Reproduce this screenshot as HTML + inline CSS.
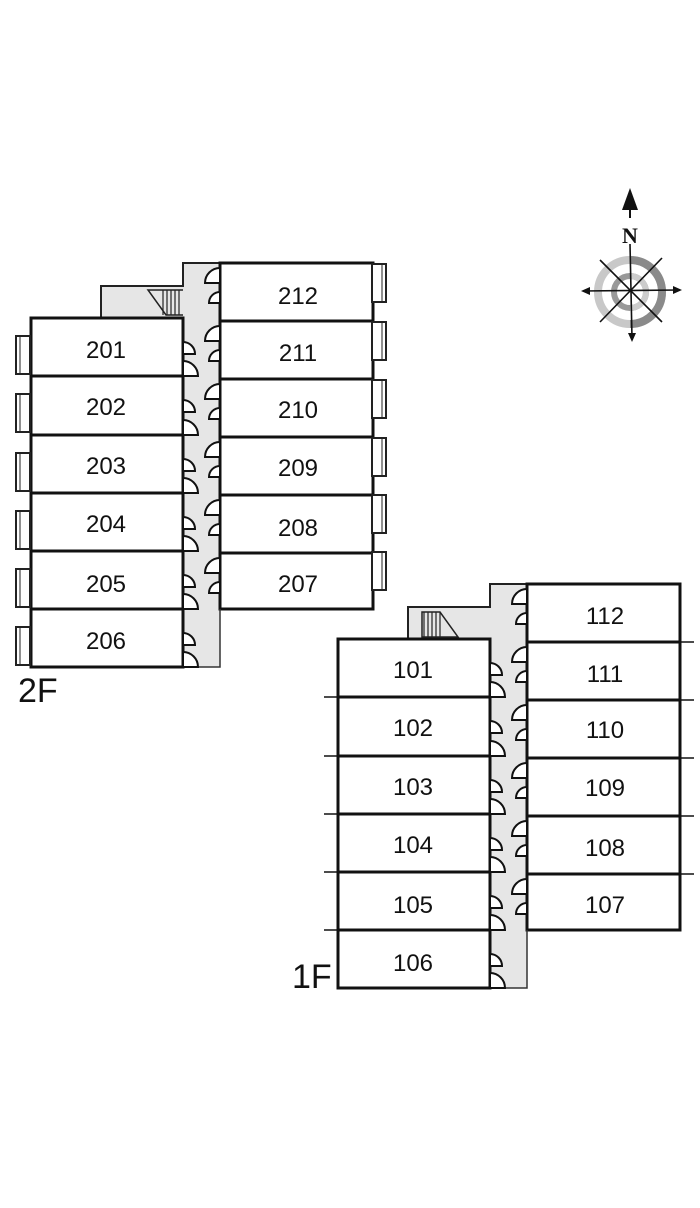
<!DOCTYPE html>
<html><head><meta charset="utf-8"><style>
html,body{margin:0;padding:0;background:#fff;width:700px;height:1208px;overflow:hidden}
text{font-family:"Liberation Sans",sans-serif;fill:#111}
</style></head><body>
<svg width="700" height="1208" viewBox="0 0 700 1208" xmlns="http://www.w3.org/2000/svg">
<defs>
<g id="fl">
<rect x="490" y="584" width="37" height="404" fill="#e6e6e6"/>
<rect x="408" y="607" width="82" height="32" fill="#e6e6e6"/>
<path d="M408 639 L408 607 L490 607 L490 584 L527 584" fill="none" stroke="#222" stroke-width="2"/>
<rect x="338" y="639" width="152" height="349" fill="#fff" stroke="#111" stroke-width="3"/>
<path d="M338 697H490M338 756H490M338 814H490M338 872H490M338 930H490" stroke="#111" stroke-width="3"/>
<rect x="527" y="584" width="153" height="346" fill="#fff" stroke="#111" stroke-width="3"/>
<path d="M527 642H680M527 700H680M527 758H680M527 816H680M527 874H680" stroke="#111" stroke-width="3"/>
<path d="M527 930V988H490" fill="none" stroke="#333" stroke-width="1.5"/>
<g fill="#fff" stroke="#111" stroke-width="2">
<path d="M490 663A12 12 0 0 1 502 675L490 675Z"/><path d="M490 682A15 15 0 0 1 505 697L490 697Z"/>
<path d="M490 721A12 12 0 0 1 502 733L490 733Z"/><path d="M490 741A15 15 0 0 1 505 756L490 756Z"/>
<path d="M490 780A12 12 0 0 1 502 792L490 792Z"/><path d="M490 799A15 15 0 0 1 505 814L490 814Z"/>
<path d="M490 838A12 12 0 0 1 502 850L490 850Z"/><path d="M490 857A15 15 0 0 1 505 872L490 872Z"/>
<path d="M490 896A12 12 0 0 1 502 908L490 908Z"/><path d="M490 915A15 15 0 0 1 505 930L490 930Z"/>
<path d="M490 954A12 12 0 0 1 502 966L490 966Z"/><path d="M490 973A15 15 0 0 1 505 988L490 988Z"/>
<path d="M527 589A15 15 0 0 0 512 604L527 604Z"/><path d="M527 613A11 11 0 0 0 516 624L527 624Z"/>
<path d="M527 647A15 15 0 0 0 512 662L527 662Z"/><path d="M527 671A11 11 0 0 0 516 682L527 682Z"/>
<path d="M527 705A15 15 0 0 0 512 720L527 720Z"/><path d="M527 729A11 11 0 0 0 516 740L527 740Z"/>
<path d="M527 763A15 15 0 0 0 512 778L527 778Z"/><path d="M527 787A11 11 0 0 0 516 798L527 798Z"/>
<path d="M527 821A15 15 0 0 0 512 836L527 836Z"/><path d="M527 845A11 11 0 0 0 516 856L527 856Z"/>
<path d="M527 879A15 15 0 0 0 512 894L527 894Z"/><path d="M527 903A11 11 0 0 0 516 914L527 914Z"/>
</g>
</g>
<g id="bl"><rect x="0" y="0" width="14" height="38" fill="#fff" stroke="#222" stroke-width="2"/><line x1="4" y1="1" x2="4" y2="37" stroke="#222" stroke-width="1"/></g>
<g id="br"><rect x="0" y="0" width="14" height="38" fill="#fff" stroke="#222" stroke-width="2"/><line x1="10" y1="1" x2="10" y2="37" stroke="#222" stroke-width="1"/></g>
</defs>

<use href="#fl"/>
<g stroke="#222" stroke-width="1.2">
<path d="M424 612V637M428 612V637M432 612V637M436 612V637M440 612V637"/>
<path d="M422 612H440L458 637H422Z" fill="none" stroke-width="1.5"/>
</g>
<path d="M324 697H338M324 756H338M324 814H338M324 872H338M324 930H338M680 642H694M680 700H694M680 758H694M680 816H694M680 874H694" stroke="#111" stroke-width="1.5"/>
<g font-size="24" text-anchor="middle">
<text x="413" y="678">101</text>
<text x="413" y="736">102</text>
<text x="413" y="795">103</text>
<text x="413" y="853">104</text>
<text x="413" y="913">105</text>
<text x="413" y="971">106</text>
<text x="605" y="624">112</text>
<text x="605" y="682">111</text>
<text x="605" y="738">110</text>
<text x="605" y="796">109</text>
<text x="605" y="856">108</text>
<text x="605" y="913">107</text>
</g>
<text x="292" y="988" font-size="34">1F</text>

<g transform="translate(-307,-321)"><use href="#fl"/></g>
<g stroke="#222" stroke-width="1.2">
<path d="M163 290V315M167 290V315M171 290V315M175 290V315M179 290V315"/>
<path d="M183 290H148L166 315H183" fill="none" stroke-width="1.5"/>
</g>
<use href="#bl" x="16" y="336"/><use href="#bl" x="16" y="394"/><use href="#bl" x="16" y="453"/>
<use href="#bl" x="16" y="511"/><use href="#bl" x="16" y="569"/><use href="#bl" x="16" y="627"/>
<use href="#br" x="372" y="264"/><use href="#br" x="372" y="322"/><use href="#br" x="372" y="380"/>
<use href="#br" x="372" y="438"/><use href="#br" x="372" y="495"/><use href="#br" x="372" y="552"/>
<g font-size="24" text-anchor="middle">
<text x="106" y="358">201</text>
<text x="106" y="415">202</text>
<text x="106" y="474">203</text>
<text x="106" y="532">204</text>
<text x="106" y="592">205</text>
<text x="106" y="649">206</text>
<text x="298" y="304">212</text>
<text x="298" y="361">211</text>
<text x="298" y="418">210</text>
<text x="298" y="476">209</text>
<text x="298" y="536">208</text>
<text x="298" y="592">207</text>
</g>
<text x="18" y="702" font-size="34">2F</text>

<circle cx="630" cy="292" r="32" fill="none" stroke="#c8c8c8" stroke-width="8"/>
<path d="M630 260A32 32 0 0 1 630 324" fill="none" stroke="#8a8a8a" stroke-width="8"/>
<circle cx="630" cy="292" r="16" fill="none" stroke="#999" stroke-width="6"/>
<path d="M630 276A16 16 0 0 1 630 308" fill="none" stroke="#ccc" stroke-width="6"/>
<g stroke="#111" stroke-width="1.6">
<line x1="630" y1="244" x2="632" y2="338"/><line x1="583" y1="291" x2="680" y2="290"/>
<line x1="600" y1="260" x2="662" y2="322"/><line x1="662" y1="258" x2="600" y2="322"/>
</g>
<path d="M630 188L622 210L638 210Z" fill="#111"/>
<line x1="630" y1="205" x2="630" y2="218" stroke="#111" stroke-width="2"/>
<text x="630" y="243" font-size="22" font-weight="bold" text-anchor="middle" style="font-family:'Liberation Serif',serif">N</text>
<path d="M581 291L590 287L590 295Z M682 290L673 286L673 294Z M632 342L628 333L636 333Z" fill="#111"/>
</svg>
</body></html>
